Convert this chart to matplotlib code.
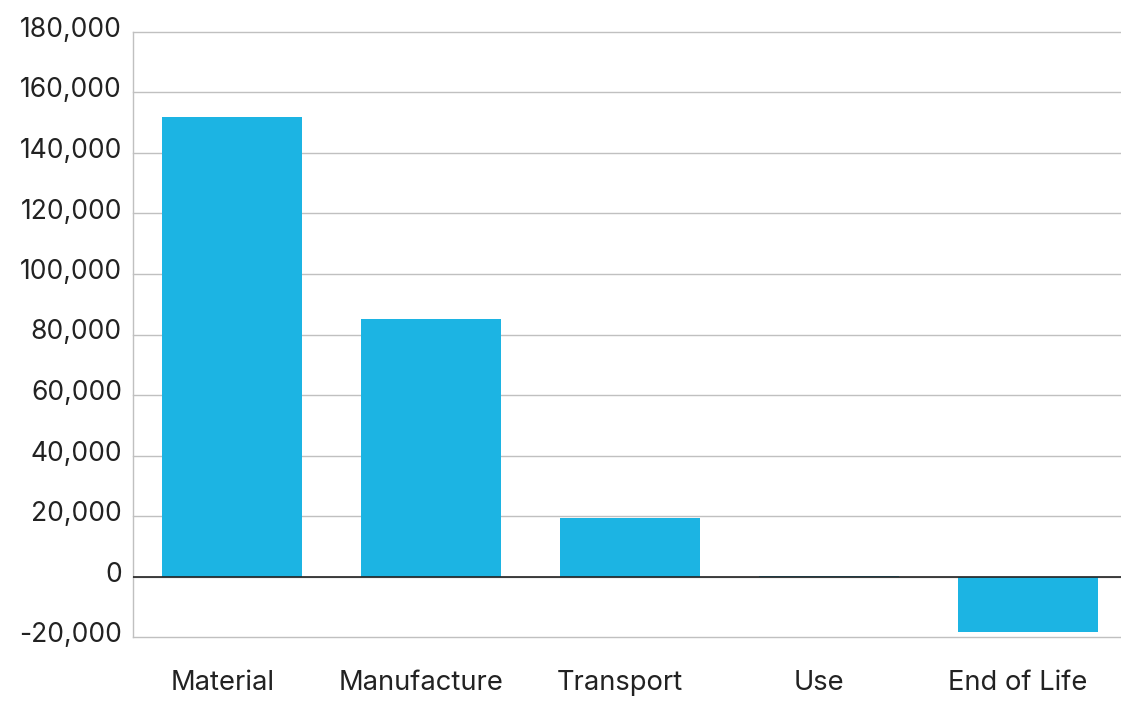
import matplotlib
matplotlib.use("Agg")
import matplotlib.pyplot as plt
import matplotlib.transforms as mtransforms
from matplotlib.ticker import FuncFormatter

categories = ["Material", "Manufacture", "Transport", "Use", "End of Life"]
values = [152000, 85200, 19500, 300, -18400]
yticks = [-20000, 0, 20000, 40000, 60000, 80000, 100000, 120000, 140000, 160000, 180000]

plt.rcParams['font.family'] = ['Inter', 'DejaVu Sans']

fig = plt.figure(figsize=(11.21, 7.01), dpi=100)
ax = fig.add_axes([133/1121, 1 - 637/701, 994/1121, (637-32)/701])

ax.bar(range(len(categories)), values, width=0.705, color="#1CB4E3", zorder=3)
ax.set_xlim(-0.5, len(categories) - 0.5)
ax.set_ylim(-20000, 180000)
ax.set_yticks(yticks)
ax.yaxis.set_major_formatter(FuncFormatter(lambda v, p: f"{int(v):,}"))
ax.set_xticks(range(len(categories)))
ax.set_xticklabels(categories)

ax.grid(axis='y', color="#C0C0C0", linewidth=1, zorder=0)
for gl in ax.get_ygridlines():
    gl.set_clip_on(False)
ax.axhline(0, color="#222222", linewidth=1.2, zorder=4)
for s in ['top', 'right', 'bottom']:
    ax.spines[s].set_visible(False)
ax.spines['left'].set_color("#C0C0C0")
ax.spines['left'].set_linewidth(1)

ax.tick_params(axis='both', length=0, colors="#222222")
ax.tick_params(axis='y', pad=8, labelsize=19)
ax.tick_params(axis='x', pad=24, labelsize=19.7)

offset = mtransforms.ScaledTranslation(0, 5/100, fig.dpi_scale_trans)
for lab in ax.get_yticklabels():
    lab.set_transform(lab.get_transform() + offset)
xoff = mtransforms.ScaledTranslation(-10/100, 0, fig.dpi_scale_trans)
for lab in ax.get_xticklabels():
    lab.set_transform(lab.get_transform() + xoff)

fig.savefig("out.png", dpi=100)
